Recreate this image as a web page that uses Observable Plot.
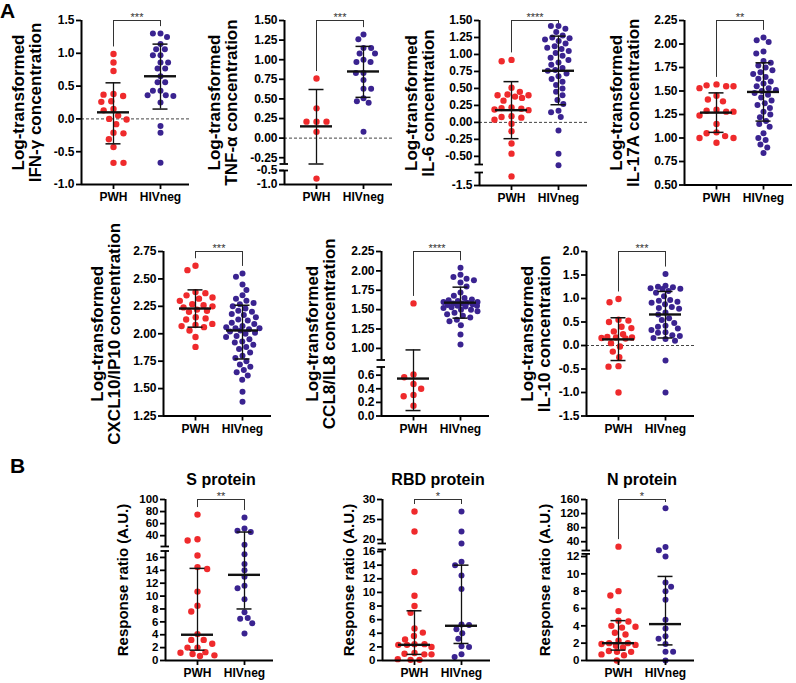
<!DOCTYPE html>
<html><head><meta charset="utf-8">
<script src="https://cdn.jsdelivr.net/npm/d3@7"></script>
<script src="https://cdn.jsdelivr.net/npm/@observablehq/plot@0.6"></script>
<style>
body{margin:0;background:#fff;font-family:"Liberation Sans",Arial,sans-serif}
#fig{position:relative;width:796px;height:683px;overflow:hidden;background:#fff}
#fig svg{position:absolute;overflow:visible;background:transparent}
.lab{position:absolute;font-weight:bold;font-size:21px;line-height:1}
</style></head><body>
<div id="fig"><div class="lab" style="left:0px;top:0px">A</div><div class="lab" style="left:10px;top:455px">B</div></div>
<script>
const groups = ["PWH", "HIVneg"];

// Panel A: log-transformed concentrations
const ifngPWH = [0.99,0.86,0.73,0.38,0.37,0.35,0.27,0.26,0.15,0.13,0.05,0.0,-0.01,-0.08,-0.21,-0.22,-0.31,-0.43,-0.67,-0.67];
const ifngHIV = [1.30,1.30,1.25,1.14,1.06,1.06,0.97,0.97,0.86,0.86,0.77,0.77,0.65,0.56,0.56,0.43,0.43,0.36,0.36,0.35,0.25,-0.11,-0.21,-0.67];
const ifngStats = [[0.10,-0.38,0.55],[0.65,0.15,1.14]];
const ifngTicks = ["1.5","1.0","0.5","0.0","-0.5","-1.0"];

const tnfPWH = [0.76,0.38,0.21,0.21,0.21,0.08,-0.79];
const tnfHIV = [1.32,1.26,1.15,1.15,1.08,1.08,1.0,0.97,0.97,0.83,0.83,0.74,0.63,0.63,0.51,0.47,0.45,0.08];
const tnfStats = [[0.15,-0.33,0.62],[0.85,0.52,1.17]];
const tnfTicks = ["1.50","1.25","1.00","0.75","0.50","0.25","0.00","-0.25","-0.5","-1.0"];

const il6PWH = [0.92,0.90,0.51,0.45,0.41,0.40,0.40,0.38,0.36,0.32,0.22,0.21,0.20,0.19,0.18,0.09,0.08,0.07,0.04,-0.02,-0.13,-0.31,-0.46,-1.15];
const il6HIV = [1.42,1.42,1.38,1.33,1.28,1.25,1.24,1.22,1.20,1.16,1.12,1.10,1.08,1.05,1.02,0.98,0.95,0.92,0.88,0.85,0.80,0.77,0.76,0.72,0.68,0.64,0.60,0.55,0.50,0.45,0.40,0.33,0.27,0.17,0.15,0.08,-0.12,-0.46,-0.65];
const il6Stats = [[0.18,-0.24,0.60],[0.76,0.26,1.27]];
const il6Ticks = ["1.50","1.25","1.00","0.75","0.50","0.25","0.00","-0.25","-0.50","-1.5"];

const il17PWH = [1.57,1.56,1.55,1.55,1.53,1.45,1.41,1.39,1.30,1.29,1.28,1.28,1.24,1.15,1.06,1.05,1.02,1.00,1.00,0.95];
const il17HIV = [2.07,2.04,2.02,1.92,1.90,1.82,1.80,1.77,1.75,1.72,1.70,1.68,1.65,1.63,1.60,1.58,1.55,1.53,1.51,1.50,1.48,1.46,1.43,1.40,1.37,1.35,1.32,1.28,1.25,1.22,1.18,1.15,1.12,1.05,1.00,0.98,0.93,0.90,0.84];
const il17Stats = [[1.27,1.06,1.48],[1.49,1.18,1.80]];
const il17Ticks = ["2.25","2.00","1.75","1.50","1.25","1.00","0.75","0.50"];

const cxclPWH = [2.62,2.58,2.38,2.37,2.35,2.33,2.32,2.30,2.27,2.26,2.25,2.24,2.22,2.21,2.20,2.15,2.14,2.13,2.09,2.08,2.07,2.06,2.03,1.97,1.88];
const cxclHIV = [2.55,2.52,2.45,2.40,2.35,2.32,2.30,2.28,2.27,2.25,2.23,2.21,2.20,2.18,2.17,2.15,2.13,2.12,2.10,2.09,2.07,2.06,2.05,2.05,2.04,2.03,2.02,2.01,2.00,1.98,1.97,1.95,1.93,1.92,1.90,1.88,1.86,1.83,1.80,1.78,1.75,1.72,1.70,1.67,1.65,1.62,1.58,1.47,1.38];
const cxclStats = [[2.23,2.06,2.40],[2.03,1.77,2.26]];
const cxclTicks = ["2.75","2.50","2.25","2.00","1.75","1.50","1.25"];

const cclPWH = [1.58,0.61,0.57,0.47,0.40,0.31,0.29,0.15];
const cclHIV = [2.04,1.95,1.92,1.90,1.88,1.85,1.80,1.72,1.68,1.65,1.63,1.62,1.61,1.60,1.60,1.59,1.58,1.58,1.57,1.56,1.55,1.55,1.54,1.53,1.52,1.50,1.50,1.48,1.46,1.44,1.42,1.40,1.37,1.35,1.30,1.18,1.05];
const cclStats = [[0.55,0.08,0.98],[1.59,1.39,1.79]];
const cclTicks = ["2.25","2.00","1.75","1.50","1.25","1.00","0.6","0.4","0.2","0.0"];

const il10PWH = [0.99,0.92,0.55,0.53,0.50,0.40,0.37,0.30,0.24,0.18,0.17,0.17,0.16,0.15,0.05,-0.02,-0.13,-0.25,-0.44,-0.45,-1.0];
const il10HIV = [1.52,1.27,1.25,1.24,1.22,1.21,1.20,1.16,1.12,1.05,0.97,0.95,0.93,0.91,0.88,0.82,0.80,0.78,0.70,0.66,0.58,0.54,0.48,0.42,0.40,0.36,0.33,0.28,0.27,0.22,0.20,0.16,0.14,0.10,-0.32,-1.0];
const il10Stats = [[0.13,-0.32,0.59],[0.66,0.16,1.15]];
const il10Ticks = ["2.0","1.5","1.0","0.5","0.0","-0.5","-1.0","-1.5"];

// Panel B: response ratios
const sPWH = [75,34,32,16.3,14.5,14.2,10.7,8.5,7.6,4.1,3.2,3.2,2.6,2.0,2.0,1.3,1.2,1.0,0.8,0.7];
const sHIV = [70,52,48,46,25,16.5,15.0,14.0,13.0,11.6,11.2,9.5,7.5,6.6,6.5,5.8,4.2];
const sStats = [[4.0,1.6,14.3],[13.3,8.0,46]];
const sTicks = ["100","80","60","40","16","14","12","10","8","6","4","2","0"];

const rbdPWH = [27,22,13,9.5,8.0,7.0,4.7,4.1,3.6,3.1,2.4,2.4,2.3,2.3,2.0,1.1,1.0,0.9,0.9,0.2,0.1,0.1];
const rbdHIV = [27,22,19,14.5,14.0,12.5,10.5,5.3,5.2,4.6,4.0,3.2,2.1,2.0,0.9,0.5];
const rbdStats = [[2.3,0.9,7.3],[5.1,2.5,14.0]];
const rbdTicks = ["30","25","20","16","14","12","10","8","6","4","2","0"];

const nPWH = [26,8.0,7.5,5.7,4.6,4.5,4.0,3.9,3.8,3.2,3.0,2.3,2.0,2.0,1.9,1.8,1.7,1.5,1.1,1.0,1.0,0.7,0.6,0.0];
const nHIV = [135,25,16,12,9.0,8.5,8.0,7.0,4.7,3.7,2.8,2.5,1.9,1.0,1.0,0.0];
const nStats = [[2.0,1.2,4.6],[4.2,1.8,9.7]];
const nTicks = ["160","120","80","40","12","10","8","6","4","2","0"];

const colors = ["#ef2a2c", "#3a2390"];
const radii = [3.5, 3.1];
const spacingX = [10, 7.6];
const spacingY = [7.4, 6.4];

const panels = [
  {pwh: ifngPWH, hiv: ifngHIV, stats: ifngStats, ticks: ifngTicks, stars: "***", ylabel: "Log-transformed\nIFN-γ concentration", axisX: 81, yDomain: [-1, 1.5], yPix: [184, 20], zero: true, labelDx: -54},
  {pwh: tnfPWH, hiv: tnfHIV, stats: tnfStats, ticks: tnfTicks, stars: "***", ylabel: "Log-transformed\nTNF-α concentration", axisX: 284, yDomain: [-1, -0.5, -0.33, 1.5], yPix: [184, 170, 163.5, 20], zero: true, labelDx: -61},
  {pwh: il6PWH, hiv: il6HIV, stats: il6Stats, ticks: il6Ticks, stars: "****", ylabel: "Log-transformed\nIL-6 concentration", axisX: 479, yDomain: [-1.5, -1.0, -0.62, 1.5], yPix: [185, 172, 164, 20], zero: true, labelDx: -59},
  {pwh: il17PWH, hiv: il17HIV, stats: il17Stats, ticks: il17Ticks, stars: "**", ylabel: "Log-transformed\nIL-17A concentration", axisX: 684, yDomain: [0.5, 2.25], yPix: [184.5, 20], labelDx: -59},
  {pwh: cxclPWH, hiv: cxclHIV, stats: cxclStats, ticks: cxclTicks, stars: "***", ylabel: "Log-transformed\nCXCL10/IP10 concentration", axisX: 163, yDomain: [1.25, 2.75], yPix: [415, 250.5], labelDx: -57},
  {pwh: cclPWH, hiv: cclHIV, stats: cclStats, ticks: cclTicks, stars: "****", ylabel: "Log-transformed\nCCL8/IL8 concentration", axisX: 381, yDomain: [0, 0.72, 0.85, 2.25], yPix: [415, 366, 359, 250.5], labelDx: -60},
  {pwh: il10PWH, hiv: il10HIV, stats: il10Stats, ticks: il10Ticks, stars: "***", ylabel: "Log-transformed\nIL-10 concentration", axisX: 586, yDomain: [-1.5, 2.0], yPix: [415, 250.5], zero: true, labelDx: -50},
  {pwh: sPWH, hiv: sHIV, stats: sStats, ticks: sTicks, stars: "**", ylabel: "Response ratio (A.U.)", axisX: 165, yDomain: [0, 17, 22, 100], yPix: [660, 550.5, 546, 499], title: "S protein", labelDx: -42},
  {pwh: rbdPWH, hiv: rbdHIV, stats: rbdStats, ticks: rbdTicks, stars: "*", ylabel: "Response ratio (A.U.)", axisX: 382, yDomain: [0, 16.3, 19, 30], yPix: [660, 549, 543, 499], title: "RBD protein", labelDx: -33},
  {pwh: nPWH, hiv: nHIV, stats: nStats, ticks: nTicks, stars: "*", ylabel: "Response ratio (A.U.)", axisX: 586, yDomain: [0, 12.3, 15, 160], yPix: [660, 553.4, 550, 499], title: "N protein", labelDx: -41}
];

// Scatter layout: elliptical collision, limited lateral spread
function swarm(vals, ys, Dx, Dy, maxHalf) {
  const pts = vals.map(v => ({y: ys(v), x: 0}));
  const order = pts.map((p, i) => i).sort((a, b) => pts[a].y - pts[b].y);
  const placed = [];
  let flip = false;
  for (const i of order) {
    const p = pts[i];
    const near = placed.filter(q => Math.abs(q.y - p.y) < Dy);
    const forb = near.map(q => {
      const t = (q.y - p.y) / Dy;
      const w = Dx * Math.sqrt(1 - t * t);
      return [q.x - w, q.x + w];
    });
    const cands = [0];
    for (const [a, b] of forb) cands.push(a, b);
    cands.sort((a, b) => (Math.abs(a) - Math.abs(b)) || (flip ? b - a : a - b));
    let x = cands.find(c => Math.abs(c) <= maxHalf + 1e-6 && forb.every(([a, b]) => c <= a + 1e-6 || c >= b - 1e-6));
    if (x === undefined) {
      let best = 0, bestScore = -Infinity;
      for (let c = -maxHalf; c <= maxHalf + 1e-6; c += 0.5) {
        let m = Infinity;
        for (const q of near) {
          const d = Math.hypot((q.x - c) / Dx, (q.y - p.y) / Dy);
          if (d < m) m = d;
        }
        const score = m - Math.abs(c) * 0.001;
        if (score > bestScore) { bestScore = score; best = c; }
      }
      x = best;
    }
    p.x = x;
    if (x !== 0) flip = !flip;
    placed.push(p);
  }
  return pts.map(p => p.x);
}

const fig = document.getElementById("fig");

function drawPanel(p) {
  const W = 108, ppu = 47, g0 = 32;
  const xmin = -g0 / ppu, xmax = xmin + W / ppu;
  const mL = 82, mR = 4, mB = 30;
  const yTop = Math.min(...p.yPix), yBot = Math.max(...p.yPix);
  const mT = p.title ? 50 : 22;
  const svgTop = yTop - mT;
  const range = p.yPix.map(v => v - svgTop);
  const ys = d3.scaleLinear(p.yDomain, range);
  const series = [p.pwh, p.hiv];
  const rows = [];
  series.forEach((vals, g) => {
    const offs = swarm(vals, ys, spacingX[g], spacingY[g], 17);
    vals.forEach((v, k) => rows.push({g, v, x: g + offs[k] / ppu}));
  });
  const stats = p.stats.map(([c, lo, hi], g) => ({g, c, lo, hi}));
  const capW = 7.5 / ppu, medW = 16 / ppu;
  const tickVals = p.ticks.map(Number);
  const tickLab = new Map(p.ticks.map(t => [Number(t), t]));
  const d0 = p.yDomain[0], dTop = p.yDomain[p.yDomain.length - 1];
  const topPx = ys(dTop);
  const legEnd = series.map((vals, g) => {
    const py = Math.max(ys(d3.max(vals)) - 7, topPx + 3);
    return {g, y2: ys.invert(py)};
  });
  const segs = p.yDomain.length > 2 ? [[d0, p.yDomain[1]], [p.yDomain[2], dTop]] : [[d0, dTop]];
  const breaks = p.yDomain.length > 2 ? [p.yDomain[1], p.yDomain[2]] : [];

  const marks = [];
  if (p.zero) marks.push(Plot.ruleY([0], {x1: xmin, x2: xmax, stroke: "#444", strokeWidth: 1, strokeDasharray: "3,2"}));
  marks.push(
    Plot.dot(rows, {x: "x", y: "v", r: d => radii[d.g], fill: d => colors[d.g], stroke: "none"}),
    Plot.ruleX(stats, {x: "g", y1: "lo", y2: "hi", stroke: "#111", strokeWidth: 1.3}),
    Plot.ruleY(stats, {y: "lo", x1: d => d.g - capW, x2: d => d.g + capW, stroke: "#111", strokeWidth: 1.5}),
    Plot.ruleY(stats, {y: "hi", x1: d => d.g - capW, x2: d => d.g + capW, stroke: "#111", strokeWidth: 1.5}),
    Plot.ruleY(stats, {y: "c", x1: d => d.g - medW, x2: d => d.g + medW, stroke: "#111", strokeWidth: 2.4}),
    // significance bracket
    Plot.ruleY([dTop], {x1: 0, x2: 1, stroke: "#333", strokeWidth: 1}),
    Plot.ruleX(legEnd, {x: "g", y1: dTop, y2: "y2", stroke: "#333", strokeWidth: 1}),
    Plot.text([p.stars], {x: 0.5, frameAnchor: "top", dy: -7, fontSize: 11, fill: "#333"}),
    // axes
    Plot.ruleX(segs, {x: xmin, y1: d => d[0], y2: d => d[1], stroke: "#000", strokeWidth: 2}),
    Plot.ruleY(breaks, {x1: xmin - 4.5 / ppu, x2: xmin + 4 / ppu, stroke: "#000", strokeWidth: 1.8}),
    Plot.ruleY([d0], {x1: xmin, x2: xmax, stroke: "#000", strokeWidth: 2}),
    Plot.axisY({ticks: tickVals, tickFormat: d => tickLab.get(d), tickSize: 5, tickPadding: 2, strokeWidth: 1.8, fontSize: p.title ? 11.5 : 12, fontWeight: "bold", label: null}),
    Plot.axisX({ticks: [0, 1], tickFormat: d => groups[d], tickSize: 5, tickPadding: 3, strokeWidth: 1.8, fontSize: 12, fontWeight: "bold", label: null}),
    Plot.text([p.ylabel], {frameAnchor: "left", dx: p.labelDx, rotate: -90, textAnchor: "middle", lineHeight: 1, fontSize: p.title ? 15 : 17, fontWeight: "bold", fill: "#000"})
  );
  if (p.title) marks.push(Plot.text([p.title], {x: 0.5, frameAnchor: "top", dy: -26, fontSize: 16, fontWeight: "bold", fill: "#000"}));

  const svg = Plot.plot({
    width: mL + W + mR,
    height: mT + (yBot - yTop) + mB,
    marginLeft: mL, marginRight: mR, marginTop: mT, marginBottom: mB,
    x: {type: "linear", domain: [xmin, xmax], axis: null},
    y: {type: "linear", domain: p.yDomain, range, axis: null},
    style: {fontFamily: "'Liberation Sans', Arial, sans-serif", color: "#000", background: "transparent", overflow: "visible"},
    marks
  });
  svg.style.left = (p.axisX - mL) + "px";
  svg.style.top = svgTop + "px";
  fig.appendChild(svg);
}

panels.forEach(drawPanel);
</script>
</body></html>
